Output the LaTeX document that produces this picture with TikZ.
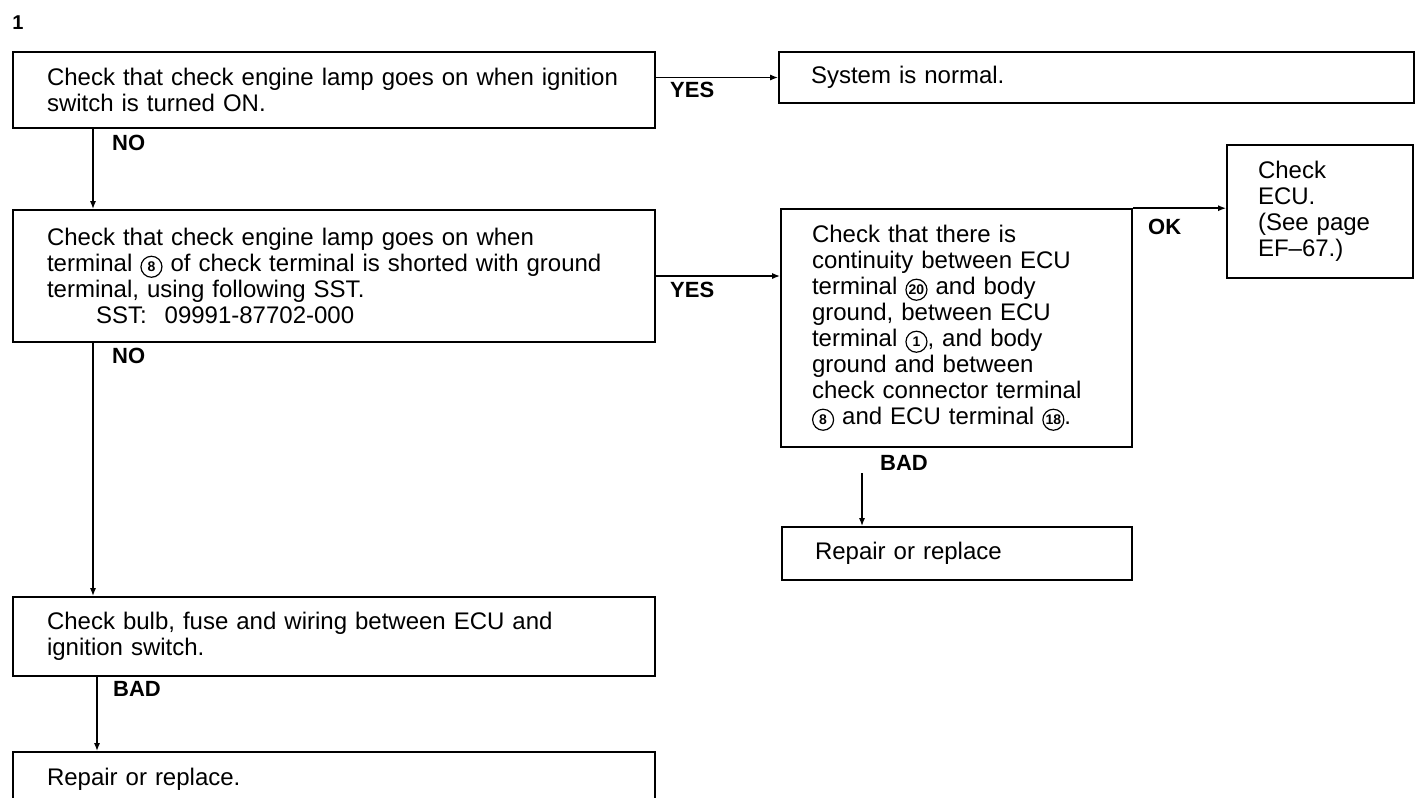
\documentclass[tikz,border=0pt]{standalone}
\usepackage{fontspec}
\setmainfont{Liberation Sans}
\usetikzlibrary{arrows.meta}

% circled terminal number set inline with the text
\newcommand\termno[1]{\tikz[baseline=(tn.base)]\node[circle,draw,line width=1.2pt,inner sep=0pt,minimum size=21pt,font=\fontsize{14}{14}\selectfont\bfseries] (tn) {#1};}

\begin{document}
\begin{tikzpicture}[x=1pt,y=-1pt,
  box/.style={draw, rectangle, line width=1.6pt, inner ysep=0pt, align=left,
              font=\fontsize{24}{26}\selectfont},
  lbl/.style={inner sep=0pt, anchor=west, font=\fontsize{22}{22}\selectfont\bfseries},
  conn/.style={line width=1.5pt, -{Latex[length=8pt,width=6pt]}}]

\clip (0,0) rectangle (1417,798);

\node[inner sep=0pt, font=\fontsize{20}{20}\selectfont\bfseries] (stepno) at (18,23) {1};

% decision and result boxes
\node[box, minimum width=642pt, minimum height=76pt, inner xsep=34pt, text width=574pt]
  (lampon) at (334,90)
  {Check that check engine lamp goes on when ignition\\switch is turned ON.};

\node[box, minimum width=635pt, minimum height=51pt, inner xsep=32pt, text width=571pt]
  (normal) at (1096.5,77.5) {System is normal.};

\node[box, minimum width=642pt, minimum height=132pt, inner xsep=34pt, text width=574pt]
  (shortcheck) at (334,276)
  {Check that check engine lamp goes on when\\
   terminal \termno{8} of check terminal is shorted with ground\\
   terminal, using following SST.\\
   \hspace*{49pt}SST:\hspace{18pt}09991-87702-000};

\node[box, minimum width=351pt, minimum height=238pt, inner xsep=31pt, text width=289pt]
  (continuity) at (956.5,328)
  {Check that there is\\
   continuity between ECU\\
   terminal \termno{20} and body\\
   ground, between ECU\\
   terminal \termno{1}, and body\\
   ground and between\\
   check connector terminal\\
   \termno{8} and ECU terminal \termno{18}.};

\node[box, minimum width=186pt, minimum height=133pt, inner xsep=31pt, text width=124pt]
  (ecu) at (1320,211.5)
  {Check\\ECU.\\(See page\\EF--67.)};

\node[box, minimum width=350pt, minimum height=53pt, inner xsep=33pt, text width=284pt]
  (repair1) at (957,553.5) {Repair or replace};

\node[box, minimum width=642pt, minimum height=79pt, inner xsep=34pt, text width=574pt]
  (bulb) at (334,636.5)
  {Check bulb, fuse and wiring between ECU and\\ignition switch.};

\node[box, minimum width=642pt, minimum height=54pt, inner xsep=34pt, text width=574pt]
  (repair2) at (334,779) {Repair or replace.};

% branch labels
\node[lbl] (yes1) at (670,90)  {YES};
\node[lbl] (no1)  at (112,143) {NO};
\node[lbl] (yes2) at (670,290) {YES};
\node[lbl] (no2)  at (112,356) {NO};
\node[lbl] (ok)   at (1148,227) {OK};
\node[lbl] (bad1) at (880,463) {BAD};
\node[lbl] (bad2) at (113,689) {BAD};

% connector guide positions
\coordinate (spine)  at (93,0);
\coordinate (spineb) at (97,0);
\coordinate (drop)   at (862,473);

% connectors
\draw[conn] (normal.west -| lampon.east) -- (normal.west);
\draw[conn] (lampon.south -| spine) -- (shortcheck.north -| spine);
\draw[conn] (shortcheck.east) -- (shortcheck.east -| continuity.west);
\draw[conn] (continuity.north east) -- (continuity.north east -| ecu.west);
\draw[conn] (drop) -- (repair1.north -| drop);
\draw[conn] (shortcheck.south -| spine) -- (bulb.north -| spine);
\draw[conn] (bulb.south -| spineb) -- (repair2.north -| spineb);

\end{tikzpicture}
\end{document}
